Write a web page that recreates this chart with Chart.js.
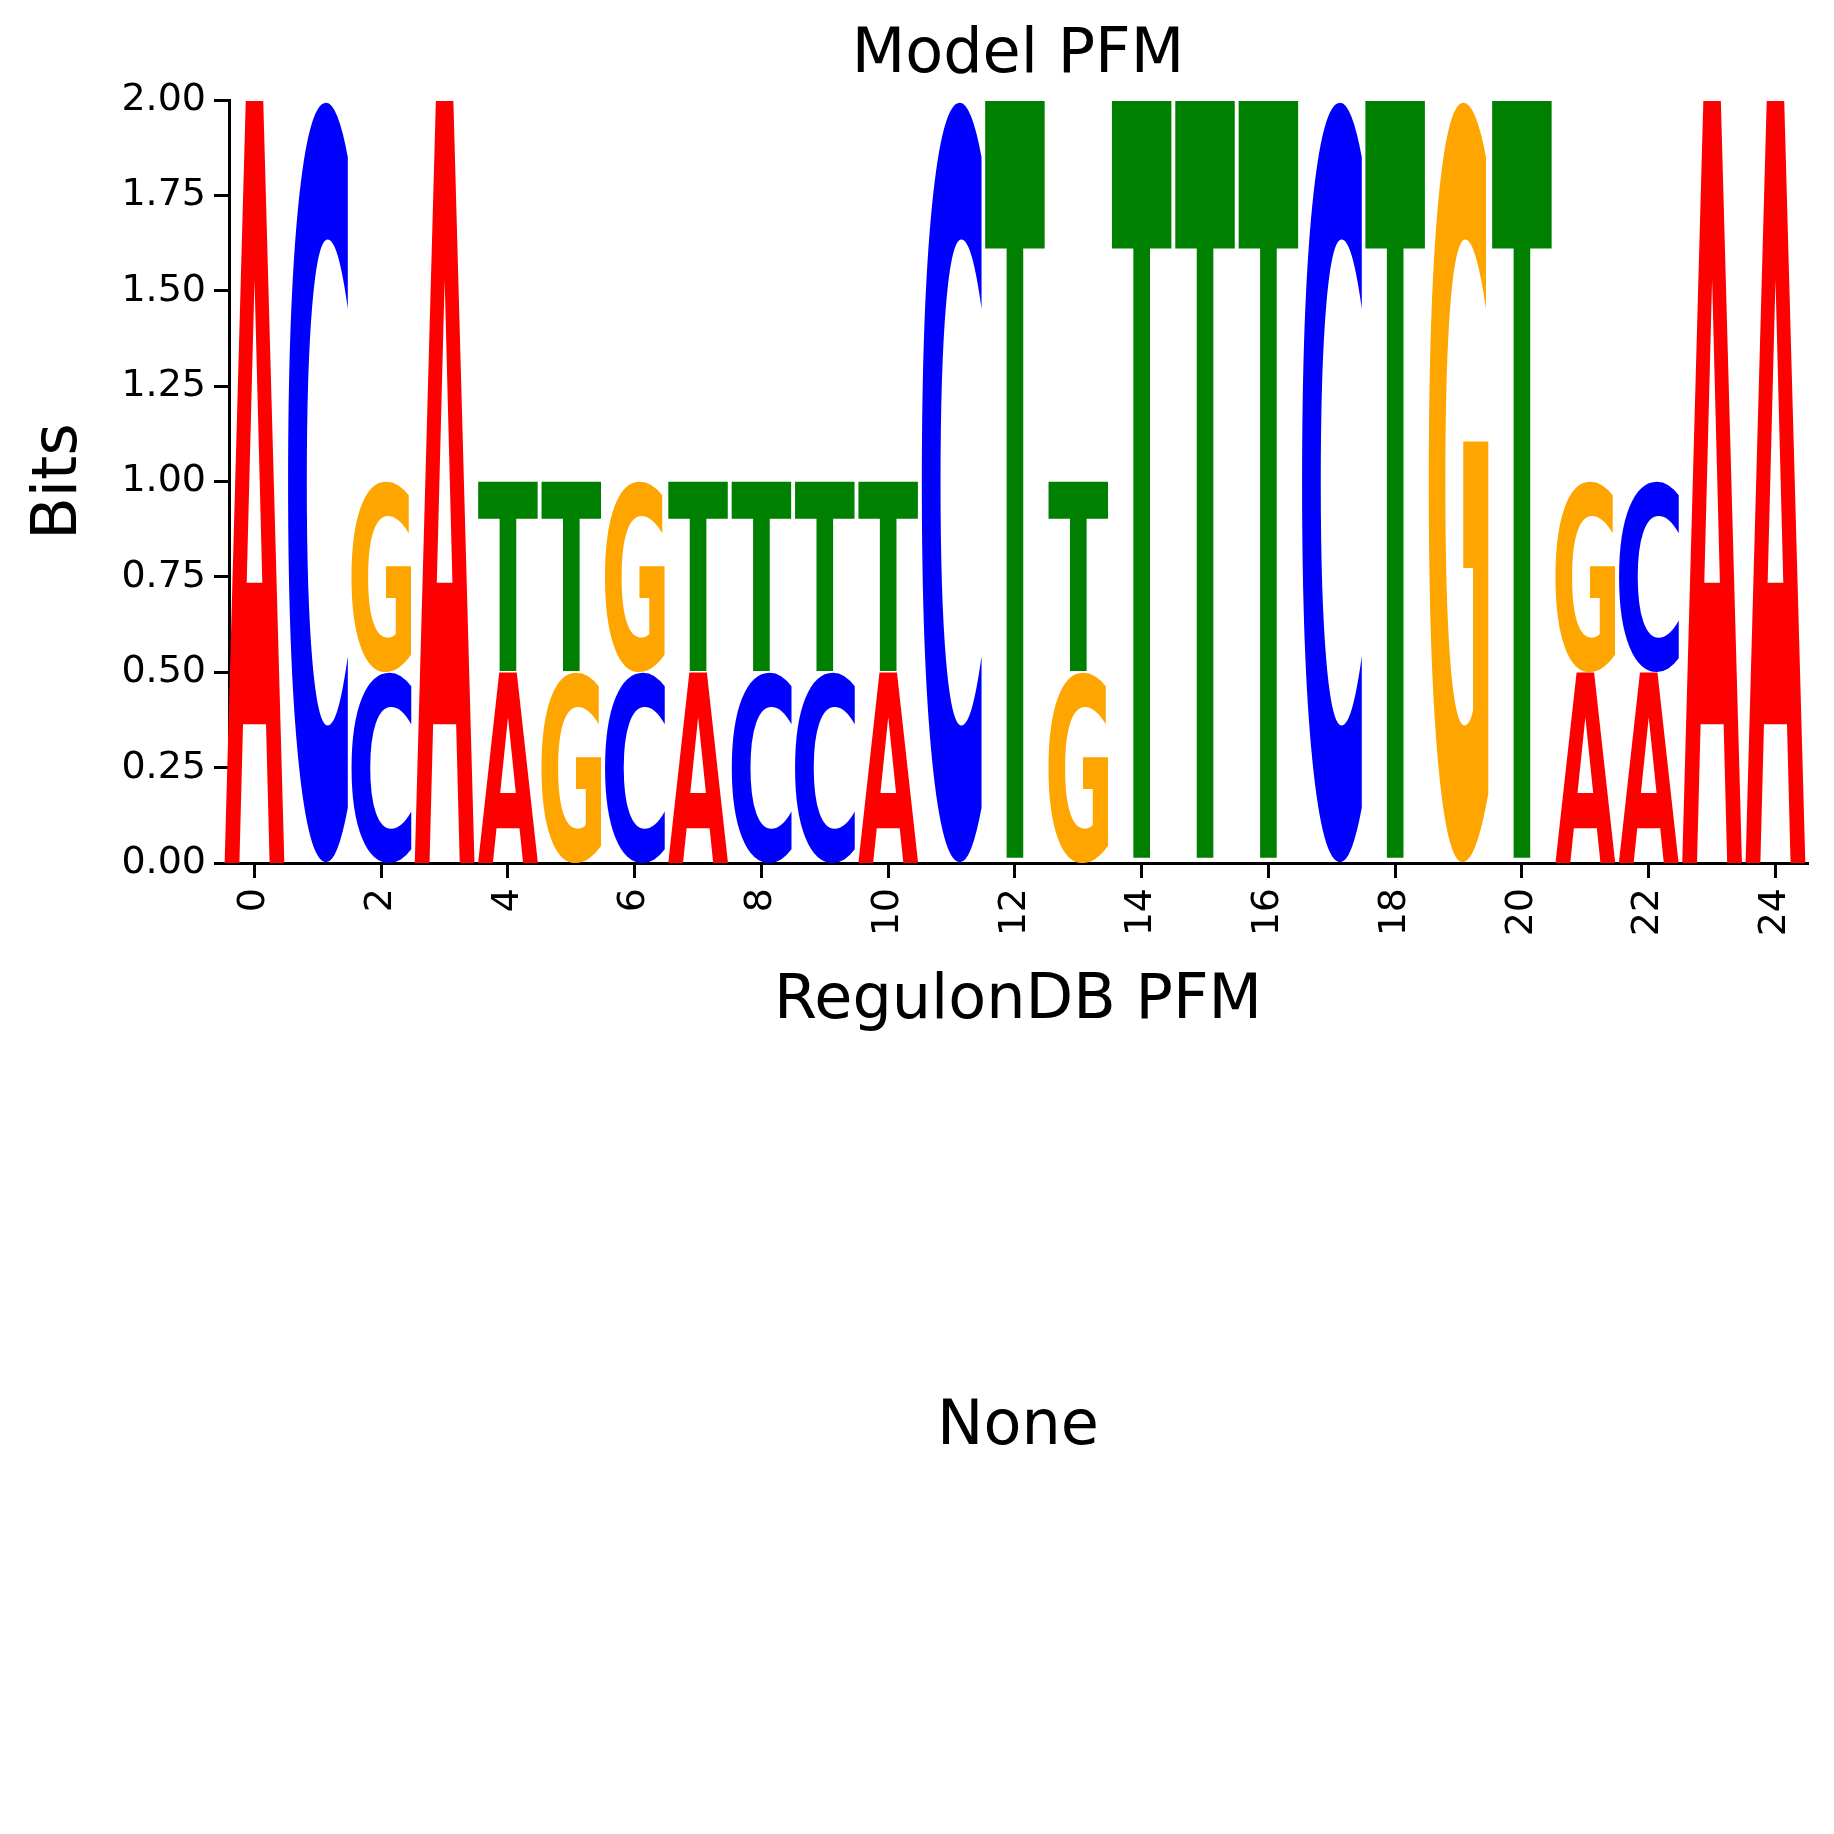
<!DOCTYPE html>
<html><head><meta charset="utf-8">
<script src="https://cdn.jsdelivr.net/npm/chart.js@4"></script>
<style>html,body{margin:0;padding:0;background:#fff}#wrap{width:1834px;height:1834px}</style>
</head><body><div id="wrap"><canvas id="c" width="1834" height="1834"></canvas></div>
<script>
const positions = [0,1,2,3,4,5,6,7,8,9,10,11,12,13,14,15,16,17,18,19,20,21,22,23,24];
const bottomLetters = ['A','C','C','A','A','G','C','A','C','C','A','C','T','G','T','T','T','C','T','G','T','A','A','A','A'];
const bottomHeights = [2,2,0.5,2,0.5,0.5,0.5,0.5,0.5,0.5,0.5,2,2,0.5,2,2,2,2,2,2,2,0.5,0.5,2,2];
const topLetters = ['','','G','','T','T','G','T','T','T','T','','','T','','','','','','','','G','C','',''];
const topHeights = [0,0,0.5,0,0.5,0.5,0.5,0.5,0.5,0.5,0.5,0,0,0.5,0,0,0,0,0,0,0,0.5,0.5,0,0];
const xTicks = [0,2,4,6,8,10,12,14,16,18,20,22,24];
const yTicks = [0,0.25,0.5,0.75,1.0,1.25,1.5,1.75,2.0];
const colors = {A:'#ff0000',C:'#0000ff',G:'#ffa500',T:'#008000'};

const FONT = 'DejaVu Sans';
function drawGlyph(ctx, ch, x0, x1, yTop, yBot){
  ctx.save();
  ctx.font = 'bold 200px "'+FONT+'"';
  const m = ctx.measureText(ch);
  const gw = m.actualBoundingBoxLeft + m.actualBoundingBoxRight;
  const gh = m.actualBoundingBoxAscent + m.actualBoundingBoxDescent;
  ctx.beginPath(); ctx.rect(x0-2, yTop-2, x1-x0+4, yBot-yTop+4); ctx.clip();
  ctx.translate(x0, yTop);
  ctx.scale((x1-x0)/gw, (yBot-yTop)/gh);
  ctx.fillStyle = colors[ch];
  ctx.textBaseline = 'alphabetic'; ctx.textAlign = 'left';
  ctx.fillText(ch, m.actualBoundingBoxLeft, m.actualBoundingBoxAscent);
  ctx.restore();
}
const logoPlugin = {
  id:'logo',
  afterDatasetsDraw(chart){
    const ctx = chart.ctx, xs = chart.scales.x, ys = chart.scales.y;
    positions.forEach((p,i)=>{
      const x0 = xs.getPixelForValue(p-0.475), x1 = xs.getPixelForValue(p+0.475);
      let base = 0;
      [[bottomLetters[i],bottomHeights[i]],[topLetters[i],topHeights[i]]].forEach(([ch,h])=>{
        if(!ch||!h) return;
        drawGlyph(ctx, ch, x0, x1, ys.getPixelForValue(base+h), ys.getPixelForValue(base));
        base += h;
      });
    });
  },
  afterDraw(chart){
    const ctx = chart.ctx, a = chart.chartArea;
    const cx = (a.left+a.right)/2;
    ctx.save(); ctx.fillStyle='#000'; ctx.textAlign='center'; ctx.textBaseline='middle';
    ctx.font = '62px "'+FONT+'"';
    ctx.fillText('Model PFM', cx, 56);
    ctx.fillText('RegulonDB PFM', cx, 1002);
    ctx.fillText('None', cx, 1428);
    ctx.translate(60, (a.top+a.bottom)/2); ctx.rotate(-Math.PI/2);
    ctx.fillText('Bits', 0, 0);
    ctx.restore();
  }
};
new Chart(document.getElementById('c'), {
  type:'scatter',
  data:{datasets:[{data:positions.map((p,i)=>({x:p,y:bottomHeights[i]+topHeights[i]})),pointRadius:0,showLine:false}]},
  options:{
    responsive:false, animation:false, devicePixelRatio:1,
    layout:{padding:{top:100,right:27,left:0,bottom:0}},
    plugins:{legend:{display:false},tooltip:{enabled:false}},
    scales:{
      x:{type:'linear',min:-0.4,max:24.5,
        afterBuildTicks(s){s.ticks = xTicks.map(v=>({value:v}));},
        afterFit(s){s.height = 1834-863;},
        ticks:{minRotation:90,maxRotation:90,color:'#000',font:{family:FONT,size:38},padding:10,callback:(v)=>String(v)},
        grid:{display:true,drawOnChartArea:false,drawTicks:true,tickLength:15,color:'#000',lineWidth:3},
        border:{display:true,color:'#000',width:3}},
      y:{min:0,max:2,
        afterBuildTicks(s){s.ticks = yTicks.map(v=>({value:v}));},
        afterFit(s){s.width = 229;},
        ticks:{color:'#000',font:{family:FONT,size:38},padding:8,callback:(v)=>Number(v).toFixed(2)},
        grid:{display:true,drawOnChartArea:false,drawTicks:true,tickLength:15,color:'#000',lineWidth:3},
        border:{display:true,color:'#000',width:3}}
    }
  },
  plugins:[logoPlugin]
});
</script></body></html>
